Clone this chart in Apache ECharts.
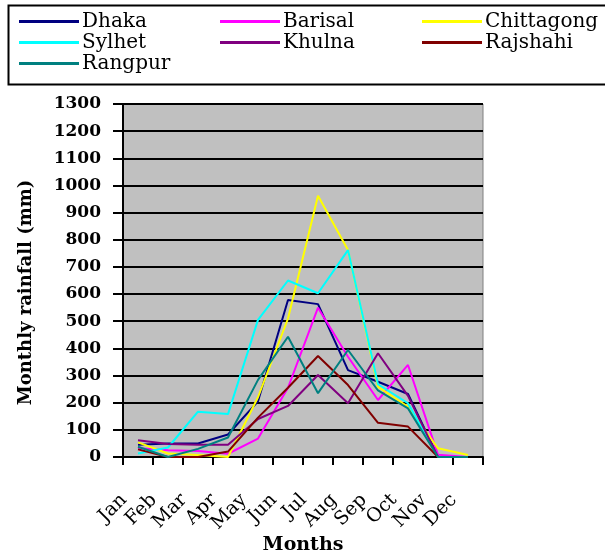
<!DOCTYPE html>
<html>
<head>
<meta charset="utf-8">
<title>Monthly rainfall</title>
<script src="https://cdn.jsdelivr.net/npm/echarts@6/dist/echarts.min.js"></script>
<style>
    html, body { margin: 0; padding: 0; background: #fff; }
    #chart { width: 605px; height: 558px; }
</style>
</head>
<body>
<div id="chart"></div>
<script>
//月份
let months = ["Jan", "Feb", "Mar", "Apr", "May", "Jun", "Jul", "Aug", "Sep", "Oct", "Nov", "Dec"];
//各站月降雨量 (mm)
let dhaka = [45, 50, 50, 83, 205, 578, 563, 320, 277, 232, 0, 0];
let barisal = [32, 25, 22, 12, 68, 255, 550, 369, 210, 339, 8, 0];
let chittagong = [54, 13, 7, 0, 220, 510, 962, 762, 258, 185, 32, 7];
let sylhet = [13, 35, 167, 158, 505, 650, 603, 762, 268, 198, 0, 0];
let khulna = [62, 48, 45, 45, 140, 188, 302, 198, 382, 225, 0, 0];
let rajshahi = [28, 0, 0, 20, 145, 255, 372, 265, 126, 112, 0, 0];
let rangpur = [38, 0, 30, 72, 284, 443, 235, 394, 245, 179, 0, 0];
//y轴刻度
let yMin = 0, yMax = 1300, yStep = 100;

let serif = "DejaVu Serif";
let stations = [
    { name: "Dhaka", data: dhaka, color: "#000080" },
    { name: "Barisal", data: barisal, color: "#FF00FF" },
    { name: "Chittagong", data: chittagong, color: "#FFFF00" },
    { name: "Sylhet", data: sylhet, color: "#00FFFF" },
    { name: "Khulna", data: khulna, color: "#800080" },
    { name: "Rajshahi", data: rajshahi, color: "#800000" },
    { name: "Rangpur", data: rangpur, color: "#008080" }
];

//图例 三列
function makeLegend(names, left) {
    return {
        orient: "vertical",
        left: left,
        top: 11,
        data: names,
        icon: "path://M0,0 L60,0 L60,3 L0,3 Z",
        itemWidth: 60,
        itemHeight: 3,
        itemGap: 0,
        padding: 0,
        selectedMode: false,
        textStyle: { fontFamily: serif, fontSize: 20, color: "#000", lineHeight: 21, padding: [0, 0, 0, -2] }
    };
}

var myChart = echarts.init(document.getElementById("chart"), null, { renderer: "canvas" });
var option = {
    animation: false,
    backgroundColor: "#fff",
    graphic: [{
        type: "rect",
        left: 6,
        top: 3,
        shape: { width: 640, height: 79 },
        style: { fill: "none", stroke: "#000", lineWidth: 2 },
        z: -1
    }],
    legend: [
        makeLegend(["Dhaka", "Sylhet", "Rangpur"], 19),
        makeLegend(["Barisal", "Khulna"], 220),
        makeLegend(["Chittagong", "Rajshahi"], 422)
    ],
    grid: {
        left: 123, right: 122, top: 104, bottom: 101,
        outerBoundsMode: "none",
        containLabel: false,
        show: true,
        backgroundColor: "#C0C0C0",
        borderColor: "#808080",
        borderWidth: 1
    },
    xAxis: {
        type: "category",
        data: months,
        boundaryGap: true,
        axisLine: { lineStyle: { color: "#000", width: 2 } },
        axisTick: { show: true, length: 8, lineStyle: { color: "#000", width: 2 } },
        axisLabel: {
            interval: 0, rotate: 45, margin: 26, padding: [0, 20, 0, 0],
            fontFamily: serif, fontSize: 19, color: "#000"
        },
        name: "Months",
        nameLocation: "middle",
        nameGap: 79,
        nameMoveOverlap: false,
        nameTextStyle: { fontFamily: serif, fontWeight: "bold", fontSize: 19, color: "#000" }
    },
    yAxis: {
        type: "value",
        min: yMin,
        max: yMax,
        interval: yStep,
        axisLine: { show: true, lineStyle: { color: "#000", width: 2 } },
        axisTick: { show: true, length: 10, lineStyle: { color: "#000", width: 2 } },
        axisLabel: {
            margin: 22, fontFamily: serif, fontWeight: "bold", fontSize: 17, color: "#000",
            formatter: function (v) { return String(v); }
        },
        splitLine: { show: true, lineStyle: { color: "#000", width: 2 } },
        name: "Monthly rainfall (mm)",
        nameLocation: "middle",
        nameGap: 88,
        nameMoveOverlap: false,
        nameTextStyle: { fontFamily: serif, fontWeight: "bold", fontSize: 18, color: "#000", padding: [0, 24, 0, 0] }
    },
    series: stations.map(function (s) {
        return {
            name: s.name,
            type: "line",
            data: s.data,
            symbol: "none",
            color: s.color,
            lineStyle: { color: s.color, width: 2 }
        };
    })
};
myChart.setOption(option);
</script>
</body>
</html>
